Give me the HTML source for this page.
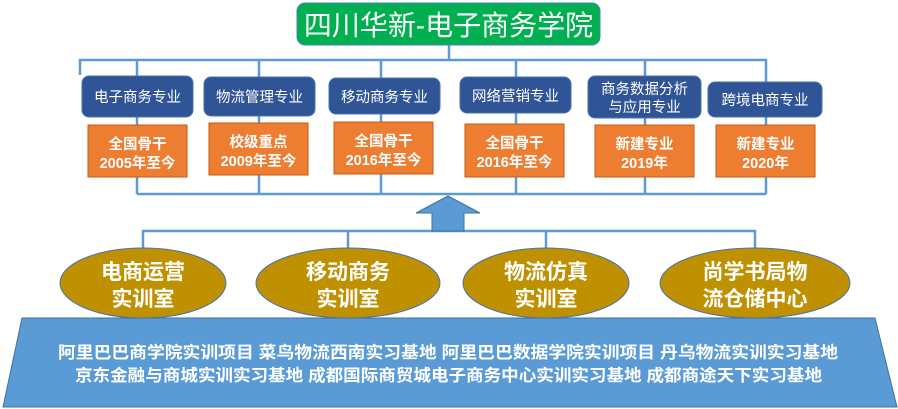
<!DOCTYPE html>
<html><head><meta charset="utf-8"><style>
html,body{margin:0;padding:0;background:#fff;}
svg{display:block;}
text{font-family:"Liberation Sans","Noto Sans CJK SC",sans-serif;}
</style></head><body>
<svg width="898" height="409" viewBox="0 0 898 409" xmlns="http://www.w3.org/2000/svg">
<!-- top connectors -->
<g stroke="#5b9bd5" stroke-width="2.5" fill="none">
<path d="M449 45V60M80 75V60H766V82"/>
<path d="M137 60V76M259 60V77M381 60V78M516 60V77M645 60V76"/>
<path d="M137 117V194M259 116V194M381 114V194M516 113V194M645 118V194M766 117V194M137 194H766"/>
<path d="M143 248V231H755V248M348 231V248M546 231V248"/>
</g>
<!-- title -->
<rect x="297" y="3" width="303" height="42" rx="8" fill="#00b050" stroke="#4f81bd" stroke-width="1"/>
<text x="448.5" y="35" font-size="28" fill="#fff" text-anchor="middle">四川华新-电子商务学院</text>
<!-- majors -->
<g fill="#2f5597" stroke="#4a72b0" stroke-width="1">
<rect x="82" y="76" width="111" height="41" rx="7"/>
<rect x="204" y="77" width="111" height="39" rx="7"/>
<rect x="329" y="78" width="111" height="36" rx="7"/>
<rect x="460" y="77" width="111" height="36" rx="7"/>
<rect x="588" y="76" width="113" height="42" rx="7"/>
<rect x="708" y="82" width="114" height="35" rx="7"/>
</g>
<g font-size="14.5" fill="#fff" text-anchor="middle">
<text x="137.5" y="102">电子商务专业</text>
<text x="259.5" y="102">物流管理专业</text>
<text x="384.5" y="102">移动商务专业</text>
<text x="515.5" y="101">网络营销专业</text>
<text x="644.5" y="94">商务数据分析</text>
<text x="644.5" y="112">与应用专业</text>
<text x="765" y="105">跨境电商专业</text>
</g>
<g fill="#ed7d31" stroke="#c55a11" stroke-width="1">
<rect x="88" y="125" width="99" height="52"/>
<rect x="209" y="123" width="99" height="52"/>
<rect x="334" y="122" width="99" height="52"/>
<rect x="465" y="124" width="99" height="53"/>
<rect x="595" y="125" width="99" height="52"/>
<rect x="716" y="125" width="99" height="52"/>
</g>
<g font-size="14.5" font-weight="bold" fill="#fff" text-anchor="middle">
<text x="137.5" y="149">全国骨干</text><text x="137.5" y="168">2005年至今</text>
<text x="258.5" y="147">校级重点</text><text x="258.5" y="166">2009年至今</text>
<text x="383.5" y="146">全国骨干</text><text x="383.5" y="165">2016年至今</text>
<text x="514.5" y="148">全国骨干</text><text x="514.5" y="167">2016年至今</text>
<text x="644.5" y="149">新建专业</text><text x="644.5" y="168">2019年</text>
<text x="765.5" y="149">新建专业</text><text x="765.5" y="168">2020年</text>
</g>
<!-- arrow -->
<path d="M448 196L480 213H464V231H432V213H416Z" fill="#5b9bd5" stroke="#41719c" stroke-width="1"/>
<!-- platform -->
<path d="M22 318H875L897 407H3Z" fill="#5b9bd5" stroke="#41719c" stroke-width="1"/>
<g font-size="16.5" font-weight="bold" fill="#fff">
<text x="58" y="358" textLength="780" lengthAdjust="spacingAndGlyphs">阿里巴巴商学院实训项目  菜鸟物流西南实习基地  阿里巴巴数据学院实训项目  丹乌物流实训实习基地</text>
<text x="75" y="381" textLength="747" lengthAdjust="spacingAndGlyphs">京东金融与商城实训实习基地  成都国际商贸城电子商务中心实训实习基地  成都商途天下实习基地</text>
</g>
<!-- ellipses -->
<g fill="#bf9000" stroke="#4a72b0" stroke-width="1">
<ellipse cx="143" cy="283" rx="83" ry="35"/>
<ellipse cx="348" cy="283" rx="92" ry="35"/>
<ellipse cx="546" cy="283" rx="83" ry="35"/>
<ellipse cx="755" cy="283" rx="95" ry="35"/>
</g>
<g font-size="21" font-weight="bold" fill="#fff" text-anchor="middle">
<text x="143" y="279">电商运营</text><text x="143" y="306">实训室</text>
<text x="348" y="279">移动商务</text><text x="348" y="306">实训室</text>
<text x="546" y="279">物流仿真</text><text x="546" y="306">实训室</text>
<text x="755" y="279">尚学书局物</text><text x="755" y="306">流仓储中心</text>
</g>
</svg>
</body></html>
